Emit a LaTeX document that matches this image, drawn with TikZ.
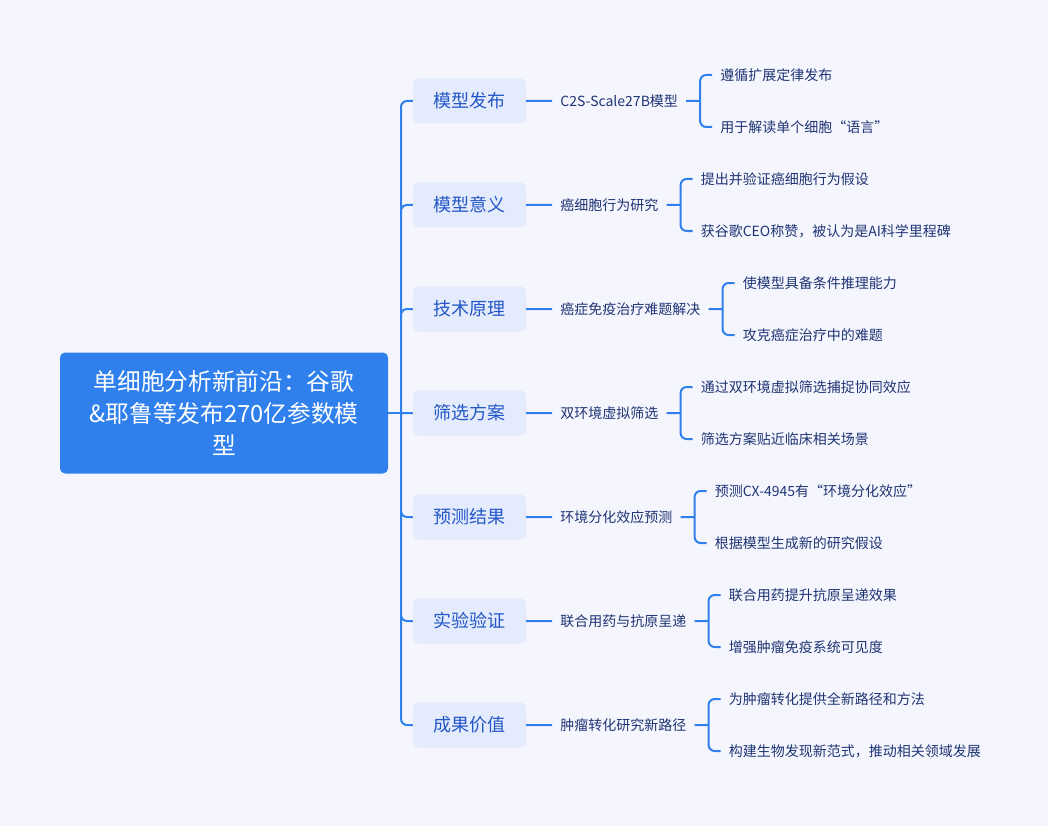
\documentclass[tikz,border=0pt]{standalone}
\usepackage{fontspec}
\setmainfont{Noto Sans CJK SC}
\usetikzlibrary{positioning}
\definecolor{paper}{HTML}{F5F6FD}
\definecolor{rootblue}{HTML}{2F80EC}
\definecolor{topicfill}{HTML}{E3EBFD}
\definecolor{topictext}{HTML}{2356C6}
\definecolor{leaftext}{HTML}{1E3474}
\definecolor{linkblue}{HTML}{2F80EC}

\begin{document}
\begin{tikzpicture}[x=1pt,y=-1pt,
    root node/.style={fill=rootblue,text=white,rounded corners=5pt,align=center,
      minimum width=328pt,minimum height=121pt,font=\fontsize{23.7}{32}\selectfont},
    topic node/.style={fill=topicfill,text=topictext,rounded corners=6pt,
      minimum width=113pt,minimum height=45pt,font=\fontsize{18}{22}\selectfont},
    sub node/.style={inner sep=0pt,text=leaftext,font=\fontsize{14}{17}\selectfont},
    leaf node/.style={sub node},
    link/.style={draw=linkblue,line width=2pt,rounded corners=6pt}]
  \fill[paper] (0,0) rectangle (1048,826);

  \node[root node] (root) at (224,413) {单细胞分析新前沿：谷歌\\\&耶鲁等发布270亿参数模\\型};
  \coordinate (hub) at (401,413);

  \node[topic node] (t1) at (469.5,101) {模型发布};
  \node[topic node] (t2) at (469.5,205) {模型意义};
  \node[topic node] (t3) at (469.5,309) {技术原理};
  \node[topic node] (t4) at (469.5,413) {筛选方案};
  \node[topic node] (t5) at (469.5,517) {预测结果};
  \node[topic node] (t6) at (469.5,621) {实验验证};
  \node[topic node] (t7) at (469.5,725) {成果价值};

  % second level
  \node[sub node,right=34pt of t1] (s1) {C2S-Scale27B模型};
  \node[sub node,right=34pt of t2] (s2) {癌细胞行为研究};
  \node[sub node,right=34pt of t3] (s3) {癌症免疫治疗难题解决};
  \node[sub node,right=34pt of t4] (s4) {双环境虚拟筛选};
  \node[sub node,right=34pt of t5] (s5) {环境分化效应预测};
  \node[sub node,right=34pt of t6] (s6) {联合用药与抗原呈递};
  \node[sub node,right=34pt of t7] (s7) {肿瘤转化研究新路径};

  \coordinate[right=22pt of s1] (k1);
  \coordinate[right=22pt of s2] (k2);
  \coordinate[right=22pt of s3] (k3);
  \coordinate[right=22pt of s4] (k4);
  \coordinate[right=22pt of s5] (k5);
  \coordinate[right=22pt of s6] (k6);
  \coordinate[right=22pt of s7] (k7);

  % leaves
  \node[leaf node,right=20pt of k1,yshift=26pt] (l1a) {遵循扩展定律发布};
  \node[leaf node,right=20pt of k1,yshift=-26pt] (l1b) {用于解读单个细胞“语言”};
  \node[leaf node,right=20pt of k2,yshift=26pt] (l2a) {提出并验证癌细胞行为假设};
  \node[leaf node,right=20pt of k2,yshift=-26pt] (l2b) {获谷歌CEO称赞，被认为是AI科学里程碑};
  \node[leaf node,right=20pt of k3,yshift=26pt] (l3a) {使模型具备条件推理能力};
  \node[leaf node,right=20pt of k3,yshift=-26pt] (l3b) {攻克癌症治疗中的难题};
  \node[leaf node,right=20pt of k4,yshift=26pt] (l4a) {通过双环境虚拟筛选捕捉协同效应};
  \node[leaf node,right=20pt of k4,yshift=-26pt] (l4b) {筛选方案贴近临床相关场景};
  \node[leaf node,right=20pt of k5,yshift=26pt] (l5a) {预测CX-4945有“环境分化效应”};
  \node[leaf node,right=20pt of k5,yshift=-26pt] (l5b) {根据模型生成新的研究假设};
  \node[leaf node,right=20pt of k6,yshift=26pt] (l6a) {联合用药提升抗原呈递效果};
  \node[leaf node,right=20pt of k6,yshift=-26pt] (l6b) {增强肿瘤免疫系统可见度};
  \node[leaf node,right=20pt of k7,yshift=26pt] (l7a) {为肿瘤转化提供全新路径和方法};
  \node[leaf node,right=20pt of k7,yshift=-26pt] (l7b) {构建生物发现新范式，推动相关领域发展};

  % connectors
  \draw[link] (root.east) -- (hub);
  \draw[link] (hub) |- (t1.west) (hub) |- (t2.west) (hub) |- (t3.west) (hub) -- (t4.west)
    (hub) |- (t5.west) (hub) |- (t6.west) (hub) |- (t7.west);
  \draw[link] (t1.east) -- ([xshift=-8pt]s1.west) ([xshift=8pt]s1.east) -- (k1)
    ([xshift=-8pt]l1a.west) -| (k1) |- ([xshift=-8pt]l1b.west);
  \draw[link] (t2.east) -- ([xshift=-8pt]s2.west) ([xshift=8pt]s2.east) -- (k2)
    ([xshift=-8pt]l2a.west) -| (k2) |- ([xshift=-8pt]l2b.west);
  \draw[link] (t3.east) -- ([xshift=-8pt]s3.west) ([xshift=8pt]s3.east) -- (k3)
    ([xshift=-8pt]l3a.west) -| (k3) |- ([xshift=-8pt]l3b.west);
  \draw[link] (t4.east) -- ([xshift=-8pt]s4.west) ([xshift=8pt]s4.east) -- (k4)
    ([xshift=-8pt]l4a.west) -| (k4) |- ([xshift=-8pt]l4b.west);
  \draw[link] (t5.east) -- ([xshift=-8pt]s5.west) ([xshift=8pt]s5.east) -- (k5)
    ([xshift=-8pt]l5a.west) -| (k5) |- ([xshift=-8pt]l5b.west);
  \draw[link] (t6.east) -- ([xshift=-8pt]s6.west) ([xshift=8pt]s6.east) -- (k6)
    ([xshift=-8pt]l6a.west) -| (k6) |- ([xshift=-8pt]l6b.west);
  \draw[link] (t7.east) -- ([xshift=-8pt]s7.west) ([xshift=8pt]s7.east) -- (k7)
    ([xshift=-8pt]l7a.west) -| (k7) |- ([xshift=-8pt]l7b.west);
\end{tikzpicture}
\end{document}
